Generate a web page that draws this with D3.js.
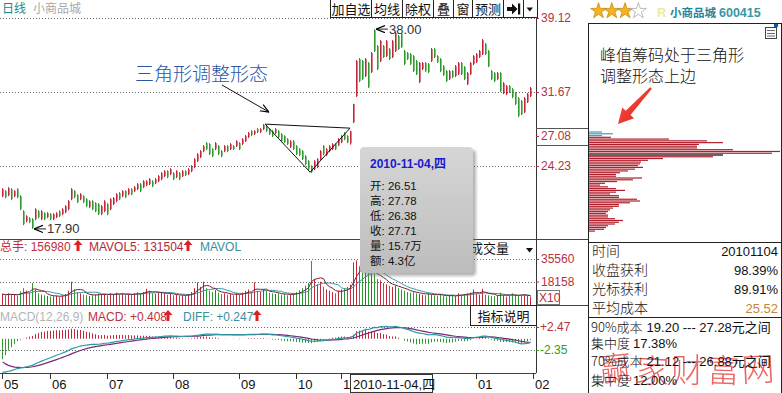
<!DOCTYPE html>
<html><head><meta charset="utf-8">
<script src="https://cdn.jsdelivr.net/npm/d3@7/dist/d3.min.js"></script>
<style>
html,body{margin:0;padding:0;background:#fff;overflow:hidden}
svg{display:block}
text{font-family:"Liberation Sans",Arial,"Noto Sans CJK SC",sans-serif}
</style></head><body>
<svg id="chart" width="782" height="393"></svg>
<script>
// ---------------- DATA ----------------
const opens=[21.19,21.70,21.29,21.90,21.19,21.90,21.19,19.68,18.67,18.98,
18.88,18.88,19.68,18.88,19.48,19.08,19.38,18.88,19.08,19.68,
19.38,19.58,19.88,20.89,21.70,21.29,20.89,21.19,20.89,20.08,
20.69,20.49,20.39,19.38,19.68,20.39,19.88,20.39,20.69,21.50,
21.19,21.70,21.39,21.90,21.70,21.90,22.40,22.10,22.30,22.40,
22.70,22.50,22.70,22.90,23.21,23.71,23.41,23.51,23.11,23.51,
23.21,23.71,23.41,23.71,24.11,24.72,25.12,25.72,26.53,26.43,
25.93,25.93,26.23,25.73,25.72,26.23,25.93,26.23,26.23,26.53,
26.43,26.73,27.13,27.74,27.44,27.94,27.64,27.94,28.24,27.94,
27.74,27.54,27.74,27.44,27.24,26.93,26.13,26.73,26.23,25.93,
25.73,25.22,24.72,24.21,23.91,24.11,24.92,26.23,25.32,25.72,
25.93,26.43,26.33,26.63,27.54,27.24,26.51,28.64,31.26,34.99,
34.79,33.28,34.59,33.68,37.90,36.30,34.79,36.30,35.29,36.00,
35.19,35.79,37.31,37.51,35.80,35.59,35.49,35.29,34.79,32.67,
33.98,34.59,34.49,34.79,36.00,35.29,34.99,34.28,33.78,32.97,
33.78,33.28,33.48,34.59,34.18,32.47,33.48,34.48,34.69,35.19,
35.49,36.50,35.80,33.78,33.58,32.97,33.58,31.56,31.46,32.27,
31.97,31.57,31.06,30.76,29.65,30.66,31.26];
const highs=[22.00,21.80,22.10,22.00,21.80,22.00,21.29,19.78,19.28,19.08,
18.98,19.98,19.78,19.78,19.58,19.58,19.48,19.48,19.58,19.78,
19.98,20.29,20.79,22.00,21.80,21.39,21.50,21.29,20.99,20.79,
20.79,20.59,20.49,20.29,20.79,20.49,20.99,21.09,21.50,21.60,
21.80,21.80,22.00,22.00,22.20,22.50,22.50,22.80,22.80,23.01,
22.80,23.01,23.31,23.61,23.81,23.81,24.01,23.61,23.81,23.61,
23.81,23.81,24.01,24.31,25.02,25.52,25.83,26.33,26.63,26.53,
26.03,26.63,26.33,25.83,26.33,26.33,26.53,26.33,26.83,26.63,
27.03,27.34,27.64,27.84,27.84,28.04,28.04,28.44,28.34,28.04,
27.84,28.04,27.84,27.54,27.34,27.03,26.83,26.83,26.33,26.03,
25.83,25.32,24.82,24.31,24.82,25.02,25.83,26.33,26.03,26.33,
26.53,26.53,27.03,27.34,27.64,27.34,27.78,30.48,34.89,35.09,
34.89,35.09,34.69,35.69,38.00,36.40,36.90,36.40,36.90,36.10,
36.90,37.71,37.41,37.61,35.90,35.69,35.59,35.39,34.89,34.69,
34.69,34.69,34.59,36.10,36.10,35.39,35.09,34.38,33.88,33.88,
33.88,34.38,34.69,34.69,34.28,33.68,34.69,35.39,35.59,35.90,
37.00,36.60,35.90,33.88,33.68,33.68,33.68,32.67,32.37,32.37,
32.07,31.67,31.16,30.86,31.16,31.58,32.17];
const lows=[21.09,20.99,21.19,20.79,21.09,20.99,19.78,18.27,18.57,18.47,
17.90,18.78,18.98,18.78,18.78,18.98,18.78,18.78,18.98,19.08,
19.28,19.48,19.78,20.79,20.99,20.49,20.79,20.49,20.09,19.98,
19.78,19.58,19.28,19.28,19.58,19.28,19.78,20.29,20.59,20.79,
21.09,20.99,21.29,21.29,21.60,21.80,21.60,22.00,22.20,22.30,
22.10,22.40,22.60,22.80,23.11,23.01,23.31,22.80,23.01,22.80,
23.11,23.21,23.31,23.61,24.01,24.62,25.02,25.62,25.83,25.32,
25.12,25.83,25.32,25.12,25.62,25.62,25.83,25.83,26.13,25.83,
26.33,26.63,27.03,27.23,27.34,27.54,27.54,27.84,27.64,27.34,
27.13,27.44,27.03,26.63,26.53,26.33,26.03,25.83,25.32,25.22,
24.82,24.31,23.81,23.51,23.81,24.01,24.82,25.32,25.22,25.62,
25.83,25.83,26.23,26.53,26.83,26.53,26.38,28.54,31.16,32.67,
32.87,33.18,32.07,33.58,35.69,33.88,34.69,35.09,35.19,34.89,
35.09,35.69,35.90,36.10,34.38,34.89,34.38,33.68,33.38,32.57,
33.88,33.68,33.58,34.69,35.09,34.59,33.68,33.28,32.67,32.87,
33.08,33.18,33.38,33.38,32.87,32.37,33.38,34.38,34.59,35.09,
35.39,35.39,34.18,32.87,32.67,32.87,31.67,31.46,31.36,31.58,
31.06,30.36,29.15,29.35,29.55,30.56,31.16];
const closes=[21.90,21.09,22.00,20.89,21.70,21.09,19.88,18.37,19.18,18.57,
18.00,19.88,19.08,19.68,18.88,19.48,18.88,19.38,19.48,19.18,
19.88,20.19,20.69,21.90,21.09,20.59,21.40,20.59,20.19,20.69,
19.88,19.68,19.38,20.19,20.69,19.38,20.89,20.99,21.40,20.89,
21.70,21.09,21.90,21.39,22.10,22.40,21.70,22.70,22.70,22.91,
22.20,22.91,23.21,23.51,23.71,23.11,23.91,22.90,23.71,22.90,
23.71,23.31,23.91,24.21,24.92,25.42,25.73,26.23,25.93,25.42,
25.22,26.53,25.42,25.22,26.23,25.72,26.43,25.93,26.73,25.93,
26.93,27.24,27.54,27.33,27.74,27.64,27.94,28.34,27.74,27.44,
27.23,27.94,27.13,26.73,26.63,26.43,26.73,25.93,25.42,25.32,
24.92,24.41,23.91,23.61,24.72,24.92,25.73,25.42,25.93,26.23,
26.43,25.93,26.93,27.24,26.93,26.60,27.71,30.48,34.79,32.77,
32.97,34.99,32.17,35.59,35.79,33.98,36.80,35.19,36.80,34.99,
36.80,37.61,36.00,36.20,34.48,34.99,34.48,33.78,33.48,34.59,
34.59,33.78,33.68,36.00,35.19,34.69,33.78,33.38,32.77,33.78,
33.18,34.28,34.59,33.48,32.97,33.58,34.59,35.29,35.49,35.80,
36.90,35.49,34.28,32.97,32.77,33.58,31.77,32.57,32.27,31.68,
31.16,30.46,29.25,29.45,31.06,31.48,32.07];
// volume in units of 10 lots (axis shows X10)
const volumes=[8500,7200,9000,7800,8200,7000,10500,13000,11000,9500,
17000,12000,9000,8000,7500,7000,6500,6800,7200,6400,
7500,8500,11000,18000,12000,10000,9000,8000,7600,7000,
7800,8200,9000,8000,8600,7500,9000,8200,9500,8000,
8800,7600,8400,7800,9000,9800,8500,10000,12500,11000,
9000,8500,9500,10000,9000,8000,8500,7500,7800,7000,
7500,7200,8500,10000,13000,17500,14000,18000,13000,11000,
10000,11500,9500,8500,9000,8000,8500,7500,9000,8000,
9500,11000,12000,10000,17500,11000,10000,12000,11000,9500,
9000,8500,9000,8000,8500,7500,8000,9000,10000,11500,
13000,15000,17000,34000,20000,16000,18000,14000,12000,11000,
10000,9000,11000,12000,13000,14000,15698,33000,34500,30000,
28000,26000,25000,24000,26000,20000,19000,17000,16000,15000,
14000,15000,13000,12000,11000,10000,9500,10000,9000,8500,
8000,7500,9500,8000,7500,7000,8500,7000,6500,7000,
7500,6800,9000,8000,8500,9000,9500,12000,9000,8000,
12500,8000,7500,7000,6800,7200,9500,7500,6500,7000,
9000,8000,7000,7500,8000,7000,6500];
const monthLabels=["05","06","07","08","09","10","11","12","01","02"];
const monthStarts=[0,16,35,57,79,98,113,135,158,177];
const priceTicks=[39.12,31.67,24.23];
const cursorPriceLabel=27.08;
const volTicks=[35560,18158];
const macdTicks=[2.47,-2.35];
const macdSeed=[28.3,35.3,-4.3]; // ema12, ema26, dea before first bar
const cursorIndex=116;
const cursorDate="2010-11-04,四";
const cursorAmount="4.3亿";
// chip distribution (relative amount per price level, top level first)
const chipVals=[13,24,13,22,80,118,134,110,108,108,144,191,183,134,124,74,59,52,51,49,54,46,39,31,27,27,53,44,28,16,11,19,27,36,27,21,30,30,48,51,41,30,30,24,21,19,17,19,19,26,34,30,26,19,17,15,6];
const chipTop=27.66, chipStep=0.178, chipSplit=27.2, chipMarkLevel=13;
const infoLabels=["时间","收盘获利","光标获利","平均成本"];
const infoValues=["20101104","98.39%","89.91%","25.52"];
const costLabels=["90%成本","集中度","70%成本","集中度"];
const costValues=["19.20 --- 27.28元之间","17.38%","21.12 --- 26.88元之间","12.00%"];
const triangle=[[87.7,28.44],[102.7,23.61],[116,28.04]];

// ---------------- SETUP ----------------
const svg=d3.select("#chart");
const RED="#c3283a",GREEN="#2f9a2f",AX="#b8303c",PURPLE="#7a2a78";
const n=closes.length;
const x=d3.scaleLinear().domain([0,177]).range([2,533]);
const yP=d3.scaleLinear().domain([24.23,39.12]).range([166,18]);
const yV=d3.scaleLinear().domain([0,35560]).range([305,259]);
const yM=d3.scaleLinear().domain([-2.35,2.47]).range([350,327]);
const bars=d3.range(n).map(i=>({i,o:opens[i],h:highs[i],l:lows[i],c:closes[i],v:volumes[i],up:closes[i]>=opens[i]}));

const defs=svg.append("defs");
[["clipP",0,19,536,220],["clipV",0,240,536,65],["clipM",0,306,536,67],["clipX",0,374,x(cursorIndex),19]].forEach(([id,a,b,w,h])=>
  defs.append("clipPath").attr("id",id).append("rect").attr("x",a).attr("y",b).attr("width",w).attr("height",h));
const blur=defs.append("filter").attr("id","blur");blur.append("feGaussianBlur").attr("stdDeviation",1.6);
const tg=defs.append("linearGradient").attr("id","tipg").attr("x1",0).attr("y1",0).attr("x2",0).attr("y2",1);
tg.append("stop").attr("offset",0).attr("stop-color","#d6d6d6");tg.append("stop").attr("offset",1).attr("stop-color","#bdbdbd");
const ag=defs.append("linearGradient").attr("id","arrg").attr("x1",0).attr("y1",0).attr("x2",1).attr("y2",1);
ag.append("stop").attr("offset",0).attr("stop-color","#ff5a4a");ag.append("stop").attr("offset",1).attr("stop-color","#d91a1a");
const mk=defs.append("marker").attr("id","ah").attr("viewBox","0 0 10 10").attr("refX",10).attr("refY",5)
 .attr("markerWidth",9).attr("markerHeight",9).attr("orient","auto-start-reverse").attr("markerUnits","userSpaceOnUse");
mk.append("path").attr("d","M0,1 L10,5 L0,9").attr("fill","none").attr("stroke","#000").attr("stroke-width",1.3);

function hline(y,x1,x2,color,dash){const l=svg.append("line").attr("x1",x1).attr("x2",x2).attr("y1",y+0.5).attr("y2",y+0.5).attr("stroke",color||"#333");if(dash)l.attr("stroke-dasharray",dash);return l;}
function vline(xx,y1,y2,color){return svg.append("line").attr("x1",xx+0.5).attr("x2",xx+0.5).attr("y1",y1).attr("y2",y2).attr("stroke",color||"#333");}
function upArrow(g,cx,cy,color){g.append("path").attr("d",`M${cx},${cy-6} L${cx+4.5},${cy-1} L${cx+1.5},${cy-1} L${cx+1.5},${cy+5} L${cx-1.5},${cy+5} L${cx-1.5},${cy-1} L${cx-4.5},${cy-1} Z`).attr("fill",color);}

// ---------------- HEADER ----------------
svg.append("text").attr("x",2).attr("y",13).attr("font-size",12).attr("fill","#168a8a").text("日线");
svg.append("text").attr("x",33).attr("y",13).attr("font-size",12).attr("fill","#a8a8a8").text("小商品城");
const btns=[["加自选",330,371],["均线",371,402],["除权",402,433],["叠",433,453],["窗",453,472],["预测",472,503],["",503,523],["",523,537]];
const tb=svg.append("g");
btns.forEach(([t,a,b])=>{tb.append("rect").attr("x",a+0.5).attr("y",-1).attr("width",b-a).attr("height",18.5).attr("fill","#fff").attr("stroke","#222");
 if(t)tb.append("text").attr("x",(a+b)/2+0.5).attr("y",13.5).attr("text-anchor","middle").attr("font-size",13).attr("fill","#111").text(t);});
tb.append("path").attr("d","M507,7 L512,7 L512,3.5 L517.5,9 L512,14.5 L512,11 L507,11 Z").attr("fill","#111");
tb.append("rect").attr("x",518).attr("y",3.5).attr("width",2.2).attr("height",11).attr("fill","#111");
tb.append("path").attr("d","M526.5,7.5 L533,7.5 L529.75,11.5 Z").attr("fill","#111");

// ---------------- GRID ----------------
priceTicks.forEach(p=>hline(Math.round(yP(p)),0,536,"#666","1,2"));
volTicks.forEach(v=>hline(Math.round(yV(v)),0,536,"#666","1,2"));
macdTicks.forEach(v=>hline(Math.round(yM(v)),0,536,"#666","1,2"));

// ---------------- CANDLES ----------------
const gP=svg.append("g").attr("clip-path","url(#clipP)");
gP.selectAll("line.wick").data(bars).join("line").attr("class","wick")
 .attr("x1",d=>x(d.i)+0.5).attr("x2",d=>x(d.i)+0.5).attr("y1",d=>yP(d.h)).attr("y2",d=>yP(d.l))
 .attr("stroke",d=>d.up?RED:GREEN).attr("stroke-width",1);
gP.selectAll("rect.body").data(bars).join("rect").attr("class","body")
 .attr("x",d=>x(d.i)).attr("width",1.6).attr("y",d=>yP(Math.max(d.o,d.c))).attr("height",d=>Math.max(1,Math.abs(yP(d.o)-yP(d.c))))
 .attr("fill",d=>d.up?RED:GREEN);

// triangle pattern
gP.append("path").attr("d",d3.line().x(d=>x(d[0])).y(d=>yP(d[1]))([...triangle,triangle[0]])).attr("fill","none").attr("stroke","#111").attr("stroke-width",1);
// annotation
svg.append("text").attr("x",135).attr("y",81).attr("font-size",19).attr("fill","#2a56a6").attr("font-family","Noto Sans CJK SC").attr("font-weight",300).text("三角形调整形态");
svg.append("line").attr("x1",222).attr("y1",85).attr("x2",x(triangle[0][0])+4).attr("y2",yP(triangle[0][1])-12).attr("stroke","#111").attr("stroke-width",1).attr("marker-end","url(#ah)");

// extremes
const iMin=d3.minIndex(lows),iMax=d3.maxIndex(highs);
[[iMin,lows[iMin]],[iMax,highs[iMax]]].forEach(([i,p])=>{
  const xx=x(i)+1,yy=yP(p);
  svg.append("line").attr("x1",xx+13).attr("x2",xx+1).attr("y1",yy).attr("y2",yy).attr("stroke","#222").attr("marker-end","url(#ah)");
  svg.append("text").attr("x",xx+14).attr("y",yy+4.5).attr("font-size",13).attr("fill","#333").text(p.toFixed(2));
});

// ---------------- VOLUME ----------------
const gV=svg.append("g").attr("clip-path","url(#clipV)");
gV.selectAll("line").data(bars).join("line").attr("x1",d=>x(d.i)+0.5).attr("x2",d=>x(d.i)+0.5)
 .attr("y1",yV(0)).attr("y2",d=>yV(d.v)).attr("stroke",d=>d.up?RED:GREEN);
const ma=k=>volumes.map((v,i)=>d3.mean(volumes.slice(Math.max(0,i-k+1),i+1)));
const ma5=ma(5),ma10=ma(10);
gV.append("path").attr("d",d3.line().x((d,i)=>x(i)+0.5).y(d=>yV(d))(ma10)).attr("fill","none").attr("stroke","#2f9aaa").attr("stroke-width",1);
gV.append("path").attr("d",d3.line().x((d,i)=>x(i)+0.5).y(d=>yV(d))(ma5)).attr("fill","none").attr("stroke","#7e1c30").attr("stroke-width",1);

// ---------------- MACD ----------------
let [e12,e26,dea]=macdSeed;
const macd=closes.map(c=>{e12=e12*11/13+c*2/13;e26=e26*25/27+c*2/27;const dif=e12-e26;dea=dea*0.8+dif*0.2;return {dif,dea,bar:2*(dif-dea)};});
const gM=svg.append("g").attr("clip-path","url(#clipM)");
gM.selectAll("line").data(macd).join("line").attr("x1",(d,i)=>x(i)+0.5).attr("x2",(d,i)=>x(i)+0.5)
 .attr("y1",yM(0)).attr("y2",d=>yM(d.bar)).attr("stroke",d=>d.bar>=0?RED:GREEN);
gM.append("path").attr("d",d3.line().x((d,i)=>x(i)+0.5).y(d=>yM(d.dea))(macd)).attr("fill","none").attr("stroke",PURPLE).attr("stroke-width",1.2);
gM.append("path").attr("d",d3.line().x((d,i)=>x(i)+0.5).y(d=>yM(d.dif))(macd)).attr("fill","none").attr("stroke","#2a9aa0").attr("stroke-width",1.2);

// ---------------- BORDERS ----------------
hline(239,0,589,"#444");hline(305,0,589,"#444");hline(373,0,536,"#444");
vline(536,18,373,"#333");
hline(128,536,589,"#555");hline(145,536,589,"#555");

// panel titles
const tv=svg.append("g").attr("font-size",12);
tv.append("text").attr("x",0).attr("y",251).attr("fill","#c0303c").text("总手: "+(volumes[cursorIndex]*10));
upArrow(tv,78,246,"#e02020");
tv.append("text").attr("x",89).attr("y",251).attr("fill","#b0283c").text("MAVOL5: 131504");
upArrow(tv,188,246,"#e02020");
tv.append("text").attr("x",200).attr("y",251).attr("fill","#3a8e9e").text("MAVOL");
svg.append("rect").attr("x",465).attr("y",240).attr("width",71).attr("height",17).attr("fill","#fff");
svg.append("text").attr("x",470).attr("y",253).attr("font-size",13).attr("fill","#111").text("成交量");
svg.append("path").attr("d","M526,248 L533,248 L529.5,252.5 Z").attr("fill","#111");

const tm=svg.append("g").attr("font-size",12);
tm.append("text").attr("x",0).attr("y",321).attr("fill","#b4b4b4").text("MACD(12,26,9)");
tm.append("text").attr("x",88).attr("y",321).attr("fill","#c0303c").text("MACD: +0.408");
upArrow(tm,168,316,"#e02020");
tm.append("text").attr("x",183).attr("y",321).attr("fill","#3a8e9e").text("DIFF: +0.247");
upArrow(tm,257,316,"#e02020");
svg.append("rect").attr("x",470.5).attr("y",305.5).attr("width",66).attr("height",20).attr("fill","#fff").attr("stroke","#222");
svg.append("text").attr("x",503.5).attr("y",320.5).attr("text-anchor","middle").attr("font-size",13).attr("fill","#111").text("指标说明");

// ---------------- AXES LABELS ----------------
const axP=svg.append("g").attr("transform","translate(536,0)").call(d3.axisRight(yP).tickValues([...priceTicks,cursorPriceLabel]).tickSize(3).tickPadding(2).tickFormat(d3.format(".2f")));
axP.select(".domain").remove();
axP.selectAll("line").attr("stroke",AX);
axP.selectAll("text").attr("fill",AX).attr("font-size",12).attr("font-family","Liberation Sans,Arial");
axP.selectAll(".tick").filter(d=>d===cursorPriceLabel).attr("transform",`translate(0,${136.5})`);
const axV=svg.append("g").attr("transform","translate(536,0)").call(d3.axisRight(yV).tickValues(volTicks).tickSize(3).tickPadding(2));
axV.select(".domain").remove();axV.selectAll("line").attr("stroke",AX);
axV.selectAll("text").attr("fill",AX).attr("font-size",12).attr("font-family","Liberation Sans,Arial").text(d=>d);
svg.append("rect").attr("x",537.5).attr("y",290.5).attr("width",22).attr("height",14).attr("fill","#fff").attr("stroke","#777");
svg.append("text").attr("x",539).attr("y",302).attr("font-size",12).attr("fill",AX).text("X10");
const axM=svg.append("g").attr("transform","translate(536,0)").call(d3.axisRight(yM).tickValues(macdTicks).tickSize(3).tickPadding(1));
axM.select(".domain").remove();
axM.selectAll("line").attr("stroke",d=>d>0?AX:GREEN);
axM.selectAll("text").attr("fill",d=>d>0?AX:GREEN).attr("font-size",12).attr("font-family","Liberation Sans,Arial").text(d=>(d>0?"+":"")+d.toFixed(2));

// x axis months (labels under the cursor date box are hidden, as in the source)
const bx0=x(cursorIndex), bx1=bx0+82;
const gx=svg.append("g");
monthStarts.forEach((idx,k)=>{
  const lx=x(idx);
  gx.append("line").attr("x1",lx+0.5).attr("x2",lx+0.5).attr("y1",373).attr("y2",379).attr("stroke","#333");
  if(lx+2>=bx0-1 && lx+2<=bx1) return;
  const t=gx.append("text").attr("x",lx+2).attr("y",389).attr("font-size",13).attr("fill","#111").text(monthLabels[k]);
  if(lx+16>bx0 && lx<bx0) t.attr("clip-path","url(#clipX)");
});
svg.append("rect").attr("x",bx0+0.5).attr("y",374.5).attr("width",82).attr("height",18).attr("fill","#fff").attr("stroke","#333");
svg.append("text").attr("x",bx0+3).attr("y",388.5).attr("font-size",13).attr("fill","#111").text(cursorDate);

// ---------------- TOOLTIP ----------------
const tx=x(cursorIndex)+10, ty=147;
svg.append("rect").attr("x",tx+3).attr("y",ty+3).attr("width",113).attr("height",126).attr("rx",4).attr("fill","#777").attr("opacity",0.55).attr("filter","url(#blur)");
svg.append("rect").attr("x",tx).attr("y",ty).attr("width",113).attr("height",126).attr("rx",4).attr("fill","url(#tipg)");
svg.append("text").attr("x",tx+10).attr("y",ty+21).attr("font-size",12).attr("font-weight","bold").attr("font-family","DejaVu Sans,Noto Sans CJK SC").attr("fill","#1a1ad0").text(cursorDate);
const cb=bars[cursorIndex];
const tipRows=[["开",cb.o.toFixed(2)],["高",cb.h.toFixed(2)],["低",cb.l.toFixed(2)],["收",cb.c.toFixed(2)],["量",(cb.v/1000).toFixed(1)+"万"],["额",cursorAmount]];
tipRows.forEach(([k,v],j)=>svg.append("text").attr("x",tx+10).attr("y",ty+43+j*15).attr("font-size",11.5).attr("font-family","DejaVu Sans,Noto Sans CJK SC").attr("fill","#111").text(k+": "+v));

// ---------------- RIGHT PANEL ----------------
const star=d3.symbol().type(d3.symbolStar).size(78);
[0,1,2,3].forEach(k=>svg.append("path").attr("d",star()).attr("transform",`translate(${598.5+k*13.3},${11})`)
  .attr("fill",k<3?"#f2b321":"#fff").attr("stroke",k<3?"#c98a10":"#aaa").attr("stroke-width",0.8));
svg.append("text").attr("x",657).attr("y",17).attr("font-size",13).attr("font-weight","bold").attr("fill","#ecec9c").text("R");
svg.append("text").attr("x",670).attr("y",17).attr("font-size",11.5).attr("font-weight","bold").attr("fill","#23879a").attr("font-family","Noto Sans CJK SC").text("小商品城");
svg.append("text").attr("x",719).attr("y",17).attr("font-size",12.5).attr("font-weight","bold").attr("fill","#3a96a6").text("600415");

hline(23,588,782,"#222");vline(588,23,393,"#222");vline(781,23,393,"#222");
hline(242,588,782,"#222");hline(317,588,782,"#222");
// note icon
svg.append("rect").attr("x",765.5).attr("y",27.5).attr("width",11).attr("height",11).attr("fill","#fff").attr("stroke","#444");
[30.5,33.5,36].forEach(yy=>hline(yy-0.5,767,775,"#666"));
svg.append("rect").attr("x",774).attr("y",24).attr("width",4).attr("height",3).attr("fill","#2050a0");

// chip distribution
const chips=chipVals.map((v,k)=>({p:chipTop-k*chipStep,v}));
const xC=d3.scaleLinear().domain([0,191]).range([589,780]);
svg.append("g").selectAll("rect").data(chips).join("rect")
 .attr("x",589).attr("y",d=>yP(d.p)-0.5).attr("height",1.2).attr("width",d=>xC(d.v)-589)
 .attr("fill",(d,k)=>k===chipMarkLevel?"#000":(d.p>chipSplit?"#3aa6b6":"#b0202c"));

svg.append("text").attr("x",600).attr("y",61).attr("font-size",16).attr("font-family","Noto Sans CJK SC").attr("font-weight",300).attr("fill","#111").text("峰值筹码处于三角形");
svg.append("text").attr("x",600).attr("y",82).attr("font-size",16).attr("font-family","Noto Sans CJK SC").attr("font-weight",300).attr("fill","#111").text("调整形态上边");
// red arrow
(function(){const S=[651,88],T=[618,124];const dx=T[0]-S[0],dy=T[1]-S[1],L=Math.hypot(dx,dy),ux=dx/L,uy=dy/L,nx=-uy,ny=ux;
 const B=[T[0]-ux*15,T[1]-uy*15];const P=(p,w)=>[p[0]+nx*w,p[1]+ny*w];
 const pts=[P(S,1.2),P(B,3.2),P(B,8),T,P(B,-8),P(B,-3.2),P(S,-1.2)];
 svg.append("path").attr("d","M"+pts.map(p=>p.join(",")).join("L")+"Z").attr("fill","url(#arrg)");})();

// info table
infoLabels.forEach((t,k)=>{
  svg.append("text").attr("x",592).attr("y",256+k*19).attr("font-size",14).attr("font-family","Noto Sans CJK SC").attr("font-weight",300).attr("fill","#111").text(t);
  svg.append("text").attr("x",778).attr("y",256+k*19).attr("text-anchor","end").attr("font-size",13).attr("fill",k===3?"#c8843a":"#111").text(infoValues[k]);
});
// watermark (drawn behind the cost text)
const wm=svg.append("g").attr("fill","#e42a2a").attr("opacity",0.72).attr("font-family","Noto Sans CJK SC").attr("font-weight",300).attr("font-size",33);
["赢","家","财","富","网"].forEach((c,k)=>wm.append("text").attr("transform",`translate(${600+k*35.5},${382}) rotate(${[-6,3,0,2,-3][k]})`).text(c));
const costY=[332,348,366,385];
costLabels.forEach((t,k)=>{
  const tt=svg.append("text").attr("x",591).attr("y",costY[k]).attr("font-size",13).attr("fill","#111");
  tt.append("tspan").attr("font-family","Noto Sans CJK SC").attr("font-weight",300).text(t);
  tt.append("tspan").attr("dx",k%2===0?4:3).text(costValues[k]);
});
</script></body></html>
